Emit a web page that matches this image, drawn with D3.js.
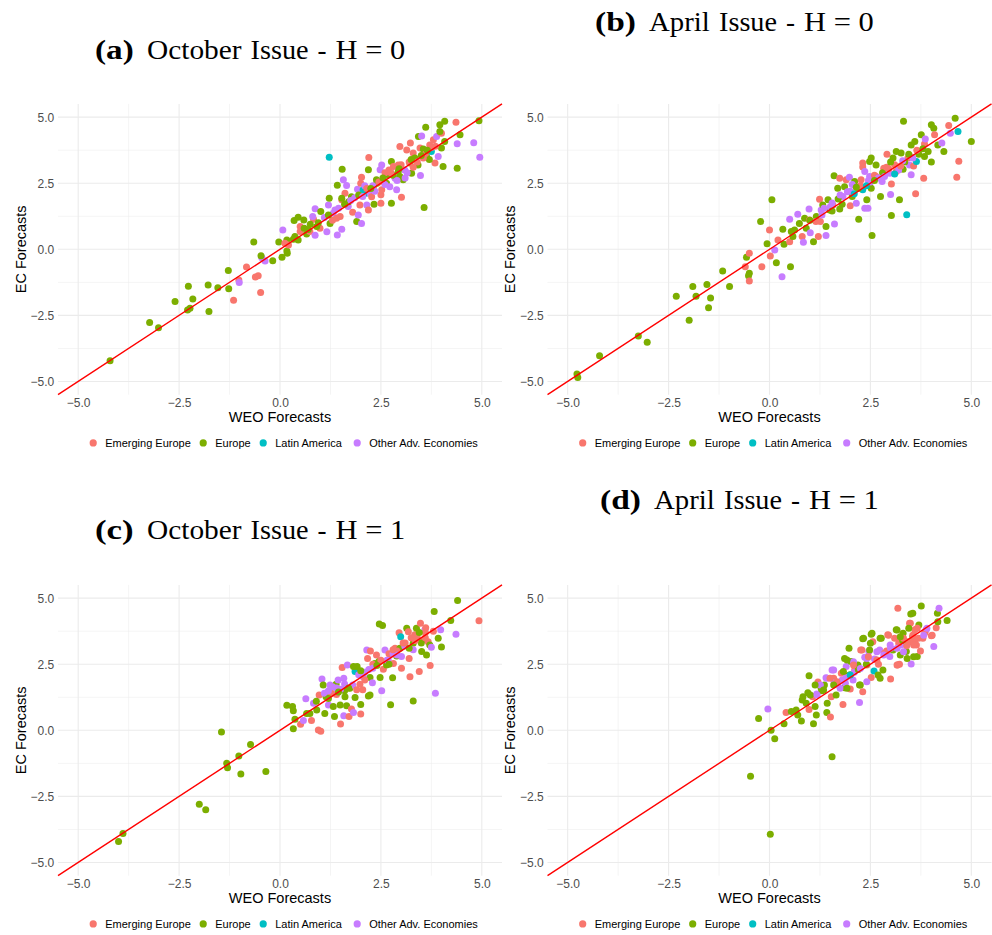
<!DOCTYPE html>
<html><head><meta charset="utf-8">
<script src="https://cdn.jsdelivr.net/npm/d3@7"></script>
<style>body{margin:0;background:#fff}</style>
</head><body>
<svg id="chart" width="992" height="935"></svg>
<script>
// ---------------- data ----------------
const regions = ["Emerging Europe", "Europe", "Latin America", "Other Adv. Economies"];
const regionColors = ["#F8766D", "#7CAE00", "#00BFC4", "#C77CFF"];
const majorTicks = [-5, -2.5, 0, 2.5, 5];
const minorTicks = [-3.75, -1.25, 1.25, 3.75];
const axisDomain = [-5.5, 5.5];
const xLabel = "WEO Forecasts";
const yLabel = "EC Forecasts";
const titleA = ["(a)", "October", "Issue", "-", "H = 0"];
const titleB = ["(b)", "April", "Issue", "-", "H = 0"];
const titleC = ["(c)", "October", "Issue", "-", "H = 1"];
const titleD = ["(d)", "April", "Issue", "-", "H = 1"];

// [WEO forecast, EC forecast, region index]
const pointsA = [
[-4.21,-4.22,1],[-3.23,-2.77,1],[-3.01,-2.97,1],[-2.6,-1.97,1],[-2.27,-1.40,1],[-2.29,-2.30,1],[-2.23,-2.23,1],[-2.16,-1.88,1],[-1.76,-2.35,1],[-1.78,-1.35,1],[-1.54,-1.45,1],[-1.28,-0.80,1],[-1.27,-1.49,1],[-1.15,-1.93,0],[-1.02,-1.16,0],[-1.01,-1.26,3],[-0.83,-0.67,0],[-0.61,-1.05,0],[-0.54,-1.0,0],[-0.48,-1.63,0],[-0.65,0.28,1],[-0.45,-0.32,3],[-0.37,-0.44,3],[-0.47,-0.24,1],[-0.18,-0.43,1],[-0.03,0.28,1],[0.05,-0.30,1],[0.07,0.73,3],[0.17,0.35,1],[0.17,-0.06,1],[0.12,0.23,0],[0.21,0.16,0],[0.18,-0.15,1],[0.35,1.09,1],[0.45,1.21,1],[0.37,0.48,1],[0.50,0.86,0],[0.50,0.67,0],[0.59,1.11,1],[0.33,0.38,1],[0.45,0.35,1],[0.66,0.58,1],[0.74,0.67,0],[0.83,1.14,0],[0.81,1.24,3],[0.87,1.53,3],[0.87,0.53,3],[0.99,0.80,0],[1.01,1.43,1],[0.91,0.86,1],[1.16,0.66,3],[1.2,1.68,3],[1.22,1.93,1],[1.22,3.48,2],[1.24,0.98,1],[1.32,1.36,3],[1.36,1.49,3],[1.42,0.54,3],[1.53,0.76,3],[1.40,1.17,0],[1.49,1.24,0],[1.42,2.42,1],[1.54,3.03,1],[1.57,2.63,3],[1.65,2.41,3],[1.53,1.87,0],[1.61,2.12,0],[1.53,1.93,1],[1.69,1.62,3],[1.80,1.40,0],[1.77,1.99,1],[1.90,1.05,1],[2.02,0.98,3],[1.94,1.30,3],[1.98,1.68,0],[1.92,2.27,3],[2.0,2.5,0],[2.02,2.73,0],[2.06,2.25,2],[2.13,2.12,2],[2.15,1.68,3],[2.19,1.49,0],[2.19,3.01,1],[2.20,3.47,0],[2.23,2.12,3],[2.27,1.99,0],[2.33,1.70,1],[2.31,2.37,1],[2.39,2.63,1],[2.48,3.01,3],[2.52,3.19,3],[2.5,1.74,0],[2.5,2.06,0],[2.52,2.25,0],[2.56,2.63,1],[2.64,2.5,1],[2.68,2.82,1],[2.72,2.37,3],[2.76,3.32,1],[2.76,1.74,1],[2.81,3.13,0],[2.85,2.69,3],[2.89,2.25,3],[2.93,2.94,1],[2.97,3.89,0],[2.97,2.75,1],[3.01,1.97,0],[3.05,2.63,1],[2.93,3.19,0],[3.09,3.0,3],[3.14,3.76,0],[3.23,4.02,0],[3.26,2.88,1],[3.30,3.64,0],[3.22,3.26,1],[3.34,3.45,1],[3.42,3.19,1],[3.43,4.27,1],[3.48,2.79,3],[3.51,4.29,3],[3.47,3.83,0],[3.55,3.79,1],[3.57,1.58,1],[3.61,4.62,1],[3.63,3.51,1],[3.71,3.95,0],[3.75,3.70,2],[3.80,4.14,0],[3.84,3.26,0],[3.88,4.27,3],[3.92,3.51,3],[3.96,4.71,1],[4.0,3.83,1],[4.0,4.39,0],[4.04,3.13,1],[4.08,4.84,1],[4.08,4.08,1],[3.96,4.46,1],[4.36,4.81,0],[4.39,3.99,3],[4.39,3.07,1],[4.46,4.33,1],[4.80,4.03,3],[4.95,3.48,3],[4.93,4.86,1],
[0.6,0.8,1],[0.75,0.95,1],[1.1,1.2,3],[1.3,1.1,0],[1.7,1.8,1],[1.85,1.95,3],[2.1,2.4,3],[2.4,2.5,1],[2.6,2.9,0],[2.8,2.8,1],[3.0,3.2,0],[3.15,2.9,3],[3.3,3.1,0],[3.6,3.6,0],[3.7,3.4,1],[3.85,3.9,0],[2.35,2.2,3],[1.95,2.05,1],[2.7,3.0,0],[3.4,3.3,0],
[1.75,1.85,3],[2.05,2.0,3],[2.3,2.4,3],[2.6,2.45,3],[2.9,2.6,3],[3.1,2.7,3],[1.45,1.55,3],[2.15,2.3,0],[2.45,2.55,0],[2.75,2.9,0],[3.2,3.3,0],[3.55,3.45,0],[3.75,3.85,0],[1.6,1.7,1],[2.25,2.3,1],[2.55,2.7,1],[2.95,3.05,1],[3.25,3.4,1],[3.5,3.55,1],[3.65,3.75,1],[1.2,1.3,1],[0.95,1.0,1],[0.7,0.75,1]
];
const pointsB = [
[-4.77,-4.72,1],[-4.75,-4.85,1],[-4.21,-4.03,1],[-3.25,-3.28,1],[-3.03,-3.52,1],[-2.31,-1.78,1],[-1.90,-1.41,1],[-1.82,-1.78,1],[-1.99,-2.68,1],[-1.55,-1.33,1],[-1.46,-1.84,1],[-1.51,-2.21,1],[-1.16,-0.82,1],[-0.99,-1.41,1],[-0.60,-0.66,0],[-0.57,-0.30,1],[-0.50,-0.15,0],[-0.50,-0.91,1],[-0.52,-1.0,1],[-0.50,-1.2,0],[-0.22,1.05,1],[-0.19,-0.66,0],[-0.06,0.21,1],[0.0,0.73,0],[0.02,-0.25,0],[0.06,1.87,1],[0.13,-0.03,3],[0.17,-0.51,1],[0.21,0.35,0],[0.31,-1.04,3],[0.33,0.76,1],[0.36,0.19,1],[0.50,1.14,3],[0.52,-0.66,1],[0.50,0.29,0],[0.54,0.67,1],[0.58,0.48,1],[0.62,0.73,1],[0.70,1.33,3],[0.74,0.98,1],[0.81,0.48,0],[0.84,0.27,3],[0.87,1.17,1],[0.91,0.80,1],[0.98,1.52,3],[1.01,0.63,3],[0.99,1.11,0],[1.09,0.29,1],[1.16,1.24,1],[1.21,0.48,0],[1.24,1.89,0],[1.28,1.49,3],[1.26,1.05,0],[1.32,1.68,1],[1.40,0.86,1],[1.40,0.52,3],[1.45,1.87,1],[1.49,1.49,1],[1.60,2.78,1],[1.61,0.96,3],[1.57,1.68,0],[1.69,2.31,1],[1.74,2.69,0],[1.74,1.52,1],[1.82,2.0,3],[1.86,2.37,1],[1.90,2.63,0],[1.93,2.18,3],[1.98,2.73,3],[2.0,1.65,0],[2.05,2.0,1],[2.11,2.56,1],[2.15,1.74,3],[2.21,1.14,1],[2.27,2.63,0],[2.31,3.26,0],[2.31,3.11,0],[2.31,2.25,2],[2.36,2.94,3],[2.36,1.55,3],[2.41,1.87,1],[2.44,1.55,3],[2.48,3.32,1],[2.52,3.45,1],[2.54,0.52,1],[2.52,2.31,1],[2.48,2.75,3],[2.64,3.19,1],[2.64,2.75,0],[2.75,2.0,1],[2.79,2.56,3],[2.83,3.07,0],[2.91,3.60,0],[2.98,2.88,3],[3.0,2.07,3],[3.02,1.28,1],[3.02,2.47,0],[3.06,3.45,1],[3.14,3.70,1],[3.14,2.94,0],[3.22,1.87,1],[3.26,3.64,1],[3.31,3.03,1],[3.32,4.84,1],[3.40,1.31,2],[3.43,3.45,0],[3.47,3.19,3],[3.51,3.95,1],[3.51,2.82,3],[3.60,4.08,1],[3.57,3.15,0],[3.62,2.10,0],[3.64,3.32,2],[3.76,4.33,1],[3.82,2.69,0],[3.84,3.98,0],[3.86,4.17,3],[3.84,3.51,1],[3.93,3.70,1],[4.01,3.30,1],[4.01,4.71,1],[4.07,4.58,1],[4.09,4.33,0],[4.17,3.95,1],[4.27,4.02,3],[4.32,3.70,1],[4.44,4.68,0],[4.48,4.39,3],[4.60,4.96,1],[4.64,2.73,0],[4.67,4.46,2],[4.69,3.33,0],[5.0,4.08,1],
[1.3,1.3,3],[1.5,1.6,3],[1.7,1.9,1],[2.0,2.2,3],[2.2,2.3,1],[2.45,2.6,3],[2.6,2.8,0],[2.8,2.9,1],[2.9,3.1,0],[3.1,3.2,0],[3.2,3.0,3],[3.35,3.3,1],[3.5,3.5,0],[3.7,3.6,1],[2.1,2.1,2],[2.7,2.7,3],
[1.35,1.55,3],[1.55,1.75,3],[1.75,2.05,3],[2.05,2.45,3],[2.5,2.55,3],[2.85,2.75,3],[3.3,3.35,3],[3.55,3.45,3],[1.15,1.05,0],[2.25,2.4,0],[2.95,3.05,0],[3.25,3.15,0],[3.65,3.75,0],[1.0,1.1,1],[1.55,1.45,1],[1.8,1.7,1],[2.15,2.35,1],[2.6,2.6,1],[3.0,3.3,1],[3.45,3.6,1],[3.8,3.8,1],[2.4,2.4,2],[3.1,2.85,2]
];
const pointsC = [
[-4.0,-4.21,1],[-3.89,-3.90,1],[-2.0,-2.80,1],[-1.84,-3.01,1],[-1.45,-0.06,1],[-1.32,-1.25,1],[-1.30,-1.42,1],[-1.02,-0.97,1],[-0.97,-1.65,1],[-0.73,-0.54,1],[-0.35,-1.56,1],[0.17,0.95,1],[0.31,0.90,1],[0.33,0.74,1],[0.33,0.06,1],[0.37,0.42,1],[0.51,0.23,0],[0.58,0.37,3],[0.64,1.19,3],[0.78,0.37,0],[0.66,0.64,1],[0.74,0.64,1],[0.83,1.02,3],[0.91,0.77,1],[0.95,0.01,0],[1.01,-0.04,0],[0.97,1.34,0],[1.04,1.94,3],[1.07,1.71,1],[1.11,0.64,1],[1.14,1.27,1],[1.20,0.96,3],[1.24,1.71,3],[1.28,1.40,0],[1.32,0.90,1],[1.35,0.52,1],[1.39,1.74,1],[1.44,1.90,3],[1.49,0.96,1],[1.50,0.24,0],[1.54,2.38,0],[1.58,0.55,3],[1.58,1.97,3],[1.61,1.27,1],[1.65,0.93,1],[1.67,2.47,3],[1.71,0.52,0],[1.73,1.59,1],[1.77,0.81,0],[1.82,0.67,3],[1.80,1.71,3],[1.86,1.24,1],[1.86,2.22,2],[1.82,2.41,1],[1.91,2.41,1],[1.90,1.53,0],[1.98,1.74,0],[2.0,0.62,0],[2.0,0.98,1],[2.05,1.53,0],[2.06,2.03,3],[2.15,3.04,3],[2.17,2.72,0],[2.19,1.30,1],[2.23,1.34,1],[2.23,2.0,1],[2.24,3.0,0],[2.29,1.80,3],[2.35,2.53,1],[2.39,2.85,0],[2.46,4.02,1],[2.54,3.96,1],[2.48,2.0,1],[2.52,1.50,3],[2.56,2.31,0],[2.60,3.04,3],[2.64,2.47,1],[2.68,2.66,3],[2.79,1.99,1],[2.74,0.97,1],[2.81,2.53,0],[2.85,3.10,0],[2.89,2.81,1],[2.95,3.69,0],[2.99,3.54,2],[2.97,3.10,1],[3.01,2.35,0],[3.01,2.79,3],[3.09,3.19,3],[3.14,3.86,1],[3.18,3.73,0],[3.22,2.03,0],[3.20,2.72,0],[3.30,1.11,1],[3.30,3.29,1],[3.34,3.61,0],[3.38,3.86,1],[3.45,2.22,0],[3.48,4.05,0],[3.51,2.98,1],[3.55,3.42,0],[3.59,3.80,3],[3.61,3.88,0],[3.63,2.85,1],[3.67,3.35,0],[3.72,2.45,0],[3.71,3.23,1],[3.75,3.14,3],[3.82,4.49,1],[3.85,1.40,3],[3.92,3.48,1],[3.98,3.80,3],[4.0,3.15,1],[4.23,4.15,1],[4.36,3.63,3],[4.40,4.91,1],[4.93,4.14,0],
[1.2,1.5,3],[1.4,1.6,3],[1.6,1.75,3],[2.1,2.2,3],[2.3,2.5,0],[2.45,2.6,1],[2.7,2.9,0],[2.9,3.0,0],[3.1,3.3,0],[3.25,3.5,0],[3.4,3.5,0],[3.5,3.3,1],[3.6,3.7,0],[2.2,2.3,3],[2.8,2.9,3],[1.6,1.5,1],
[1.1,1.4,3],[1.3,1.65,3],[1.5,1.55,3],[1.95,2.1,3],[2.3,2.35,3],[2.65,2.65,3],[2.9,2.85,3],[3.3,3.05,3],[1.4,1.35,0],[2.1,1.9,0],[2.5,2.65,0],[2.8,3.05,0],[3.05,3.3,0],[3.35,3.4,0],[3.6,3.5,0],[3.8,3.75,0],[0.9,1.1,1],[1.2,1.2,1],[1.45,1.45,1],[1.7,1.6,1],[2.0,2.25,1],[2.4,2.45,1],[2.7,2.5,1],[3.2,3.1,1],[3.45,3.7,1]
];
const pointsD = [
[-0.47,-1.74,1],[-0.27,0.45,1],[-0.04,0.81,3],[0.02,-3.93,1],[0.04,0.0,1],[0.13,-0.32,1],[0.36,0.25,1],[0.41,0.67,0],[0.54,0.71,1],[0.66,0.77,1],[0.70,0.58,1],[0.79,0.35,1],[0.81,1.15,1],[0.83,1.27,1],[0.91,1.02,1],[0.98,2.06,1],[0.95,1.42,1],[0.98,0.79,0],[1.07,1.27,0],[1.09,0.25,1],[1.13,0.90,1],[1.16,0.58,1],[1.17,1.37,3],[1.20,1.83,0],[1.28,1.59,1],[1.40,1.99,3],[1.36,1.71,1],[1.43,1.02,1],[1.42,0.67,1],[1.51,0.50,0],[1.53,1.27,0],[1.55,-1.0,1],[1.55,2.28,3],[1.59,1.97,0],[1.65,1.34,1],[1.69,1.74,3],[1.78,2.16,0],[1.82,0.98,0],[1.86,1.61,1],[1.86,2.72,1],[1.90,2.41,3],[1.94,2.06,1],[1.97,3.10,1],[2.0,1.56,0],[2.02,2.60,1],[2.07,1.90,3],[2.11,2.28,0],[2.19,2.47,1],[2.23,1.71,1],[2.23,1.05,3],[2.26,3.04,0],[2.31,3.46,1],[2.31,1.46,0],[2.36,2.76,3],[2.41,2.47,0],[2.46,2.98,3],[2.48,3.04,1],[2.52,3.63,1],[2.52,2.0,0],[2.56,3.35,0],[2.59,2.24,2],[2.64,2.66,3],[2.69,2.09,1],[2.73,3.04,3],[2.77,3.48,1],[2.81,2.28,1],[2.85,2.91,0],[2.93,3.61,0],[2.98,2.79,3],[3.0,1.94,0],[3.06,3.04,1],[3.10,3.48,0],[3.14,3.80,1],[3.17,2.47,0],[3.18,4.62,0],[3.22,2.50,0],[3.26,3.23,3],[3.31,3.67,1],[3.39,2.98,1],[3.43,3.35,0],[3.47,4.05,0],[3.50,4.40,1],[3.51,2.51,3],[3.55,4.43,1],[3.55,3.54,1],[3.60,3.80,0],[3.64,3.23,0],[3.66,2.79,1],[3.70,3.98,1],[3.74,3.0,0],[3.76,4.70,1],[3.80,3.48,0],[3.88,3.80,3],[4.01,3.58,0],[4.07,3.17,3],[4.13,3.88,0],[4.16,4.43,1],[4.17,4.11,1],[4.20,4.62,3],[4.40,4.15,1],
[1.3,1.5,1],[1.6,1.8,3],[1.8,1.9,3],[2.0,2.1,1],[2.1,2.2,3],[2.4,2.5,1],[2.6,2.7,3],[2.7,2.5,0],[2.9,3.0,0],[3.0,3.1,3],[3.2,3.3,0],[3.3,3.4,1],[3.4,3.2,0],[3.55,3.6,0],[3.6,3.4,0],[3.85,3.7,0],[2.2,2.3,1],[1.9,2.0,3],
[1.88,1.78,3],[1.59,2.28,3],[1.42,1.97,3],[2.0,2.09,2],[2.08,2.59,3],[2.25,2.34,3],[2.41,2.72,3],[2.66,2.97,3],[2.83,2.85,3],[2.99,3.23,3],[3.16,3.10,3],[3.32,3.48,0],[3.49,3.35,0],[3.57,3.23,0],[3.69,3.48,0],[3.66,3.86,0],[3.49,4.05,0],[3.24,3.54,1],[3.16,3.79,1],[3.45,3.86,1],[2.95,3.60,0],[2.74,3.48,1],[2.50,3.29,1],[2.66,2.66,0],[2.45,2.78,0],[2.29,3.04,0],[2.08,2.47,0],[1.83,2.22,1],[1.67,1.84,0],[1.50,1.97,0],[1.26,1.71,3],[1.34,1.52,1],[1.13,1.71,1],[1.01,1.34,1],[1.18,1.34,3],[1.59,1.71,1],[1.75,1.59,3],[1.92,1.59,1],[2.25,1.71,1],[2.41,1.84,3],[2.74,1.97,1],[3.16,2.47,0],[3.24,2.85,1],[3.41,2.72,1],[3.57,2.78,1],[3.32,2.97,3],[3.82,3.60,3],[4.03,3.60,0],[3.90,3.86,3],[1.92,2.66,1],[2.33,3.48,1],[2.54,3.67,1]
];
const refLine = [[-5.5, -5.5], [5.5, 5.5]];   // 45-degree line y = x

// ---------------- layout ----------------
const PW = 444, PH = 290.8;
const octLayout = { off: [0, 52, 155.6, 222.6, 240.6], w: [38.7, 94.6, 58, 9, 69.7] };
const aprLayout = { off: [0, 54, 124, 191, 209], w: [40.9, 60.7, 58, 9, 69.7] };
const panels = [
  { pts: pointsA, title: titleA, x0: 58,    y0: 103.9, tx: 95,  ty: 59,  lay: octLayout },
  { pts: pointsB, title: titleB, x0: 547.5, y0: 103.9, tx: 595, ty: 31,  lay: aprLayout },
  { pts: pointsC, title: titleC, x0: 58,    y0: 584.9, tx: 95,  ty: 539, lay: octLayout },
  { pts: pointsD, title: titleD, x0: 547.5, y0: 584.9, tx: 600, ty: 509, lay: aprLayout }
];
const legendDotOff = [35.2, 145.2, 205.2, 299.2];

const svg = d3.select("#chart");
svg.append("rect").attr("width", 992).attr("height", 935).attr("fill", "#fff");
const fmt = d3.format(".1f");
const sans = "'Liberation Sans', Arial, Helvetica, sans-serif";

panels.forEach(p => {
  const x = d3.scaleLinear().domain(axisDomain).range([p.x0, p.x0 + PW]);
  const y = d3.scaleLinear().domain(axisDomain).range([p.y0 + PH, p.y0]);
  const g = svg.append("g");

  // grid
  const grid = g.append("g");
  minorTicks.forEach(t => {
    grid.append("line").attr("x1", x(t)).attr("x2", x(t)).attr("y1", p.y0).attr("y2", p.y0 + PH)
      .attr("stroke", "#EBEBEB").attr("stroke-width", 0.55);
    grid.append("line").attr("y1", y(t)).attr("y2", y(t)).attr("x1", p.x0).attr("x2", p.x0 + PW)
      .attr("stroke", "#EBEBEB").attr("stroke-width", 0.55);
  });
  majorTicks.forEach(t => {
    grid.append("line").attr("x1", x(t)).attr("x2", x(t)).attr("y1", p.y0).attr("y2", p.y0 + PH)
      .attr("stroke", "#EBEBEB").attr("stroke-width", 1.1);
    grid.append("line").attr("y1", y(t)).attr("y2", y(t)).attr("x1", p.x0).attr("x2", p.x0 + PW)
      .attr("stroke", "#EBEBEB").attr("stroke-width", 1.1);
  });

  // axes (labels only, as in theme_minimal)
  const xa = g.append("g").attr("transform", `translate(0,${p.y0 + PH})`)
    .call(d3.axisBottom(x).tickValues(majorTicks).tickFormat(fmt).tickSize(0).tickPadding(0));
  xa.select(".domain").remove();
  xa.selectAll("text").attr("y", 12.3).attr("dy", null)
    .attr("font-family", sans).attr("font-size", 12).attr("fill", "#4D4D4D");
  const ya = g.append("g").attr("transform", `translate(${p.x0},0)`)
    .call(d3.axisLeft(y).tickValues(majorTicks).tickFormat(fmt).tickSize(0).tickPadding(3.8));
  ya.select(".domain").remove();
  ya.selectAll("text").attr("dy", "0.36em")
    .attr("font-family", sans).attr("font-size", 12).attr("fill", "#4D4D4D");

  // axis titles
  g.append("text").attr("x", p.x0 + PW / 2).attr("y", p.y0 + PH + 27.7)
    .attr("text-anchor", "middle").attr("font-family", sans).attr("font-size", 14.5)
    .attr("fill", "#000").text(xLabel);
  g.append("text").attr("transform", `translate(${p.x0 - 32.1},${p.y0 + PH / 2}) rotate(-90)`)
    .attr("text-anchor", "middle").attr("font-family", sans).attr("font-size", 14.5)
    .attr("fill", "#000").text(yLabel);

  // points
  g.append("g").selectAll("circle").data(p.pts).join("circle")
    .attr("cx", d => x(d[0])).attr("cy", d => y(d[1])).attr("r", 3.5)
    .attr("fill", d => regionColors[d[2]]);

  // 45-degree reference line
  g.append("path").datum(refLine)
    .attr("d", d3.line().x(d => x(d[0])).y(d => y(d[1])))
    .attr("stroke", "#FF0000").attr("stroke-width", 1.4).attr("fill", "none");

  // legend
  const ly = p.y0 + PH + 48.2;
  regions.forEach((r, i) => {
    const cx = p.x0 + legendDotOff[i];
    g.append("circle").attr("cx", cx).attr("cy", ly).attr("r", 3.6).attr("fill", regionColors[i]);
    g.append("text").attr("x", cx + 12).attr("y", ly).attr("dy", "0.35em")
      .attr("font-family", sans).attr("font-size", 11).attr("fill", "#000").text(r);
  });

  // panel title
  p.title.forEach((w, i) => {
    g.append("text").attr("x", p.tx + p.lay.off[i]).attr("y", p.ty)
      .attr("font-family", "'Liberation Serif', 'Times New Roman', serif").attr("font-size", 27)
      .attr("font-weight", i === 0 ? "bold" : "normal").attr("fill", "#000")
      .attr("textLength", p.lay.w[i]).attr("lengthAdjust", "spacingAndGlyphs")
      .text(w);
  });
});
</script>
</body></html>
